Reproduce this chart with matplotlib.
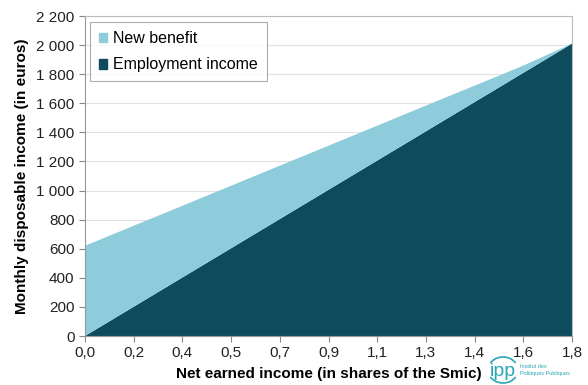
import matplotlib
matplotlib.use("Agg")
import matplotlib.pyplot as plt
from matplotlib.patches import Patch, Arc

plt.rcParams['font.family'] = ['Liberation Sans', 'DejaVu Sans']

x_labels = ["0,0", "0,2", "0,4", "0,5", "0,7", "0,9", "1,1", "1,3", "1,4", "1,6", "1,8"]
employment_income = [0, 201, 402, 603, 804, 1005, 1206, 1407, 1608, 1809, 2010]
new_benefit = [620, 557, 493, 430, 367, 303, 240, 177, 113, 50, 0]
y_ticks = [0, 200, 400, 600, 800, 1000, 1200, 1400, 1600, 1800, 2000, 2200]

light = "#8ecbdb"
dark = "#0e4b5d"

fig = plt.figure(figsize=(5.88, 3.85), dpi=100)
ax = fig.add_axes([85/588, 49/385, 487/588, 320/385])
xs = list(range(len(x_labels)))
ax.stackplot(xs, employment_income, new_benefit, colors=[dark, light], linewidth=0)

ax.set_xlim(0, len(x_labels) - 1)
ax.set_ylim(0, 2200)
ax.set_xticks(xs)
ax.set_xticklabels(x_labels)
ax.set_yticks(y_ticks)
ax.set_yticklabels([f"{v:,}".replace(",", " ") for v in y_ticks])
ax.tick_params(axis='both', labelsize=11, colors='#888888', labelcolor='#222222', length=4, direction='out')
ax.grid(axis='y', color='#e2e2e2', linewidth=0.8)
ax.set_axisbelow(True)
for s in ['top', 'right']:
    ax.spines[s].set_color('#bbbbbb')
for s in ['left', 'bottom']:
    ax.spines[s].set_color('#999999')

ax.set_xlabel("Net earned income (in shares of the Smic)", fontsize=11, fontweight='bold', labelpad=5)
ax.set_ylabel("Monthly disposable income (in euros)", fontsize=11, fontweight='bold', labelpad=5)

handles = [Patch(color=light, label="New benefit"), Patch(color=dark, label="Employment income")]
leg = ax.legend(handles=handles, loc='upper left', bbox_to_anchor=(0.01, 0.98), fontsize=11.5,
                frameon=True, fancybox=False, edgecolor='#999999', handlelength=0.55, handleheight=0.55,
                handletextpad=0.35, labelspacing=0.7, borderpad=0.55, borderaxespad=0)
leg.get_frame().set_linewidth(0.8)

# logo
fig.text(503/588, 1 - 372/385, "ipp", color="#2aa6b5", fontsize=14, ha='center', va='center')
fig.add_artist(Arc((503/588, 1 - 370/385), 30/588, 26/385, theta1=40, theta2=140,
                   transform=fig.transFigure, color="#2aa6b5", linewidth=1.2))
fig.add_artist(Arc((503/588, 1 - 370/385), 30/588, 26/385, theta1=220, theta2=320,
                   transform=fig.transFigure, color="#2aa6b5", linewidth=1.2))
fig.text(520/588, 1 - 366/385, "Institut des", color="#2aa6b5", fontsize=4, ha='left', va='center')
fig.text(520/588, 1 - 373/385, "Politiques Publiques", color="#2aa6b5", fontsize=4, ha='left', va='center')

fig.savefig("out.png", dpi=100, facecolor='white')
